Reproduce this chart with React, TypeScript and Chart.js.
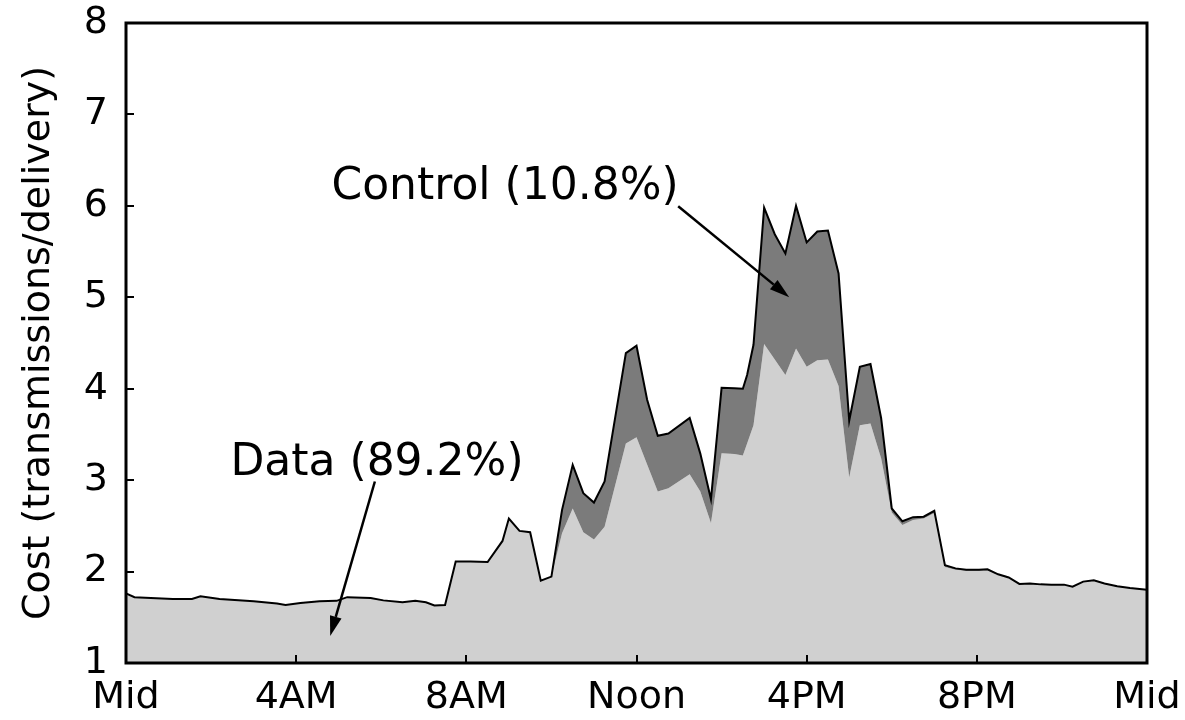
import React, { useEffect, useRef } from "react";
import { Chart, registerables } from "chart.js";

Chart.register(...registerables);

// Hour of day (0 = midnight, 24 = next midnight)
const hours = [
  0.0, 0.2, 1.1, 1.55, 1.75, 2.2, 3.0, 3.55, 3.75, 4.1, 4.55, 4.95, 5.2, 5.75, 6.05, 6.5, 6.8, 7.05, 7.25, 7.5,
  7.75, 8.1, 8.5, 8.85, 9.0, 9.25, 9.5, 9.75, 10.0, 10.25, 10.5, 10.75, 11.0, 11.25, 11.75, 12.0, 12.25, 12.5,
  12.75, 13.25, 13.5, 13.75, 14.0, 14.3, 14.5, 14.6, 14.75, 15.0, 15.25, 15.5, 15.75, 16.0, 16.25, 16.5, 16.75,
  17.0, 17.25, 17.5, 17.75, 18.0, 18.25, 18.5, 18.75, 19.0, 19.25, 19.5, 19.75, 20.05, 20.25, 20.5, 20.75, 21.0,
  21.25, 21.5, 21.75, 22.05, 22.25, 22.5, 22.75, 23.0, 23.3, 23.6, 24.0,
];

// Cost due to data transmissions
const dataCost = [
  1.76, 1.72, 1.70, 1.70, 1.73, 1.70, 1.675, 1.65, 1.635, 1.655, 1.675, 1.68, 1.72, 1.71, 1.685, 1.665, 1.68, 1.665, 1.63, 1.635,
  2.11, 2.11, 2.105, 2.335, 2.58, 2.445, 2.43, 1.90, 1.945, 2.42, 2.69, 2.43, 2.35, 2.49, 3.40, 3.47, 3.17, 2.875,
  2.91, 3.065, 2.875, 2.53, 3.295, 3.285, 3.27, 3.40, 3.60, 4.49, 4.32, 4.15, 4.44, 4.24, 4.31, 4.32, 4.03,
  3.03, 3.60, 3.62, 3.24, 2.645, 2.51, 2.565, 2.58, 2.64, 2.05, 2.02, 2.01, 2.01, 2.015, 1.965, 1.93, 1.86,
  1.865, 1.855, 1.852, 1.852, 1.83, 1.885, 1.90, 1.865, 1.835, 1.815, 1.795,
];

// Total cost (data + control) — upper outline
const totalCost = [
  1.76, 1.72, 1.70, 1.70, 1.73, 1.70, 1.675, 1.65, 1.635, 1.655, 1.675, 1.68, 1.72, 1.71, 1.685, 1.665, 1.68, 1.665, 1.63, 1.635,
  2.11, 2.11, 2.105, 2.335, 2.58, 2.445, 2.43, 1.90, 1.945, 2.675, 3.167, 2.857, 2.755, 2.985, 4.39, 4.47, 3.88, 3.485,
  3.51, 3.68, 3.29, 2.79, 4.01, 4.005, 4.0, 4.15, 4.48, 5.98, 5.69, 5.48, 6.0, 5.60, 5.72, 5.73, 5.26,
  3.65, 4.24, 4.27, 3.68, 2.69, 2.55, 2.595, 2.60, 2.665, 2.07, 2.035, 2.02, 2.02, 2.025, 1.97, 1.935, 1.865,
  1.87, 1.86, 1.857, 1.857, 1.835, 1.89, 1.905, 1.87, 1.84, 1.82, 1.80,
];

const xTickValues = [0, 4, 8, 12, 16, 20, 24];
const xTickLabels = ["Mid", "4AM", "8AM", "Noon", "4PM", "8PM", "Mid"];
const yTickValues = [1, 2, 3, 4, 5, 6, 7, 8];
const yTitle = "Cost (transmissions/delivery)";

// Annotations (in data coordinates: [hour, cost])
const noteTexts = ["Control (10.8%)", "Data (89.2%)"];
const noteAnchors = [
  [8.91, 6.08],
  [5.9, 3.06],
];
const arrowFrom = [
  [12.98, 5.995],
  [5.85, 2.985],
];
const arrowTo = [
  [15.59, 5.0],
  [4.8, 1.295],
];

const FONT = "'DejaVu Sans', 'Bitstream Vera Sans', sans-serif";

const overlayPlugin = {
  id: "overlay",
  afterDatasetsDraw(chart: any) {
    const { ctx, chartArea: a, scales } = chart;
    const x = scales.x;
    const y = scales.y;
    ctx.save();
    ctx.strokeStyle = "#000";
    ctx.fillStyle = "#000";
    // inward ticks
    ctx.lineWidth = 2;
    ctx.beginPath();
    for (const v of yTickValues) {
      const py = Math.round(y.getPixelForValue(v));
      ctx.moveTo(a.left, py);
      ctx.lineTo(a.left + 8, py);
    }
    for (const h of xTickValues) {
      const px = Math.round(x.getPixelForValue(h));
      ctx.moveTo(px, a.bottom);
      ctx.lineTo(px, a.bottom - 8);
    }
    ctx.stroke();
    // frame
    ctx.lineWidth = 3;
    ctx.strokeRect(a.left, a.top, a.right - a.left, a.bottom - a.top);

    // annotation texts
    ctx.font = `44px ${FONT}`;
    ctx.textAlign = "center";
    ctx.textBaseline = "alphabetic";
    noteTexts.forEach((t, i) => {
      const px = x.getPixelForValue(noteAnchors[i][0]);
      const py = y.getPixelForValue(noteAnchors[i][1]);
      ctx.fillText(t, px, py);
    });

    // arrows
    ctx.lineWidth = 2.5;
    for (let i = 0; i < arrowFrom.length; i++) {
      const x1 = x.getPixelForValue(arrowFrom[i][0]);
      const y1 = y.getPixelForValue(arrowFrom[i][1]);
      const x2 = x.getPixelForValue(arrowTo[i][0]);
      const y2 = y.getPixelForValue(arrowTo[i][1]);
      const ang = Math.atan2(y2 - y1, x2 - x1);
      const hl = 20;
      const hw = 6;
      const bx = x2 - hl * Math.cos(ang);
      const by = y2 - hl * Math.sin(ang);
      ctx.beginPath();
      ctx.moveTo(x1, y1);
      ctx.lineTo(bx, by);
      ctx.stroke();
      ctx.beginPath();
      ctx.moveTo(x2, y2);
      ctx.lineTo(bx + hw * Math.sin(ang), by - hw * Math.cos(ang));
      ctx.lineTo(bx - hw * Math.sin(ang), by + hw * Math.cos(ang));
      ctx.closePath();
      ctx.fill();
    }
    ctx.restore();
  },
};

const zeroPad = (s: any) => {
  s.paddingTop = 0;
  s.paddingBottom = 0;
  s.paddingLeft = 0;
  s.paddingRight = 0;
};

export default function App() {
  const ref = useRef<HTMLCanvasElement | null>(null);

  useEffect(() => {
    document.body.style.margin = "0";
    const canvas = ref.current;
    if (!canvas) return;
    const chart = new Chart(canvas, {
      type: "line",
      data: {
        datasets: [
          {
            label: "Data",
            data: hours.map((h, i) => ({ x: h, y: dataCost[i] })),
            borderColor: "rgba(0,0,0,0)",
            borderWidth: 0,
            backgroundColor: "#d0d0d0",
            fill: "start",
            pointRadius: 0,
            tension: 0,
            order: 1,
          },
          {
            label: "Control",
            data: hours.map((h, i) => ({ x: h, y: totalCost[i] })),
            borderColor: "#000",
            borderWidth: 2,
            backgroundColor: "#7b7b7b",
            fill: "-1",
            pointRadius: 0,
            tension: 0,
            order: 0,
          },
        ],
      },
      options: {
        responsive: false,
        animation: false,
        layout: { padding: { left: 0, right: 38, top: 23, bottom: 0 } },
        plugins: {
          legend: { display: false },
          tooltip: { enabled: false },
        },
        scales: {
          x: {
            type: "linear",
            min: 0,
            max: 24,
            afterBuildTicks: (s: any) => {
              s.ticks = xTickValues.map((v) => ({ value: v }));
            },
            afterFit: (s: any) => {
              s.height = 57;
              zeroPad(s);
            },
            grid: { display: false, drawTicks: false },
            border: { display: false },
            ticks: {
              autoSkip: false,
              maxRotation: 0,
              padding: 12,
              color: "#000",
              font: { family: FONT, size: 38 },
              callback: (v: any) => {
                const idx = xTickValues.indexOf(Number(v));
                return idx >= 0 ? xTickLabels[idx] : "";
              },
            },
          },
          y: {
            type: "linear",
            min: 1,
            max: 8,
            afterBuildTicks: (s: any) => {
              s.ticks = yTickValues.map((v) => ({ value: v }));
            },
            afterFit: (s: any) => {
              s.width = 126;
              zeroPad(s);
            },
            grid: { display: false, drawTicks: false },
            border: { display: false },
            ticks: {
              padding: 18,
              color: "#000",
              font: { family: FONT, size: 38 },
              callback: (v: any) => String(v),
            },
            title: {
              display: true,
              text: yTitle,
              color: "#000",
              font: { family: FONT, size: 38 },
              padding: { top: 16, bottom: 0 },
            },
          },
        },
      },
      plugins: [overlayPlugin],
    });
    return () => chart.destroy();
  }, []);

  return (
    <div style={{ width: 1185, height: 720 }}>
      <canvas ref={ref} width={1185} height={720} style={{ display: "block" }} />
    </div>
  );
}
